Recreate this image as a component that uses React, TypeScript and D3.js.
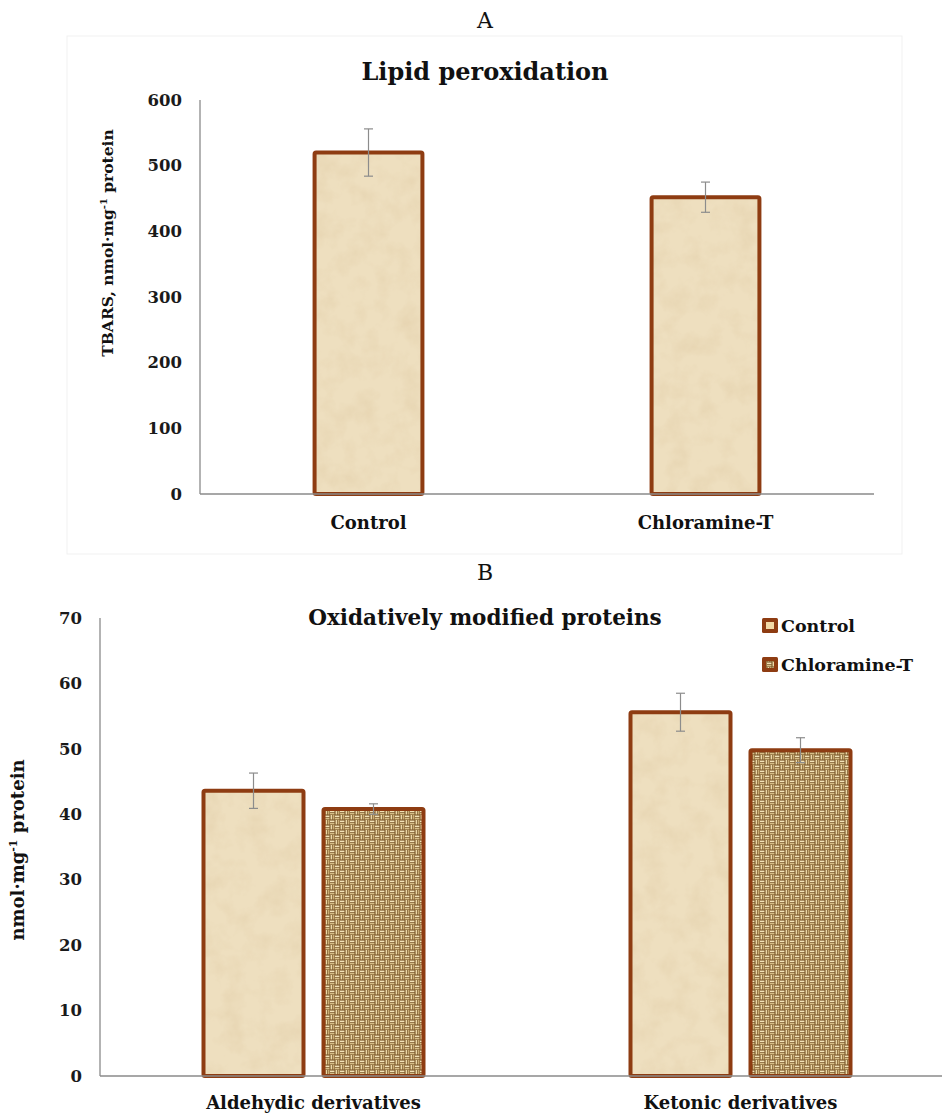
import React from "react";
import * as d3 from "d3";

// ---- Data ----
const lipidCategories = ["Control", "Chloramine-T"];
const lipidValues = [520, 452];
const lipidErrors = [36, 23];
const lipidTicks = [0, 100, 200, 300, 400, 500, 600];

const ompGroups = ["Aldehydic derivatives", "Ketonic derivatives"];
const ompSeries = ["Control", "Chloramine-T"];
const ompControl = [43.6, 55.6];
const ompControlErr = [2.7, 2.9];
const ompChloramine = [40.8, 49.8];
const ompChloramineErr = [0.8, 1.9];
const ompTicks = [0, 10, 20, 30, 40, 50, 60, 70];

const FONT = "'DejaVu Serif', serif";
const BAR_STROKE = "#8e3c12";
const AXIS = "#8a8a8a";
const ERR = "#8c8c8c";

function ErrorBar({ x, y1, y2 }: { x: number; y1: number; y2: number }) {
  return (
    <g stroke={ERR} strokeWidth={1.2}>
      <line x1={x} x2={x} y1={y1} y2={y2} />
      <line x1={x - 4.5} x2={x + 4.5} y1={y1} y2={y1} />
      <line x1={x - 4.5} x2={x + 4.5} y1={y2} y2={y2} />
    </g>
  );
}

function Bar({ x, y, w, h, series }: { x: number; y: number; w: number; h: number; series: string }) {
  return (
    <g>
      <rect x={x} y={y} width={w} height={h} fill={series === "Control" ? "#eedfbf" : "#8a6535"} />
      {series === "Control" ? (
        <rect x={x} y={y} width={w} height={h} fill="#fff" filter="url(#paper)" />
      ) : (
        <rect x={x} y={y} width={w} height={h} fill="url(#weave)" />
      )}
      <rect x={x} y={y} width={w} height={h} fill="none" stroke={BAR_STROKE} strokeWidth={4} rx={1.5} />
    </g>
  );
}

function ChartA() {
  const x = d3.scaleBand<string>().domain(lipidCategories).range([200, 874]).padding(0);
  const y = d3.scaleLinear().domain([0, 600]).range([494, 100]);
  const bw = x.bandwidth() * 0.32;
  return (
    <g>
      <rect x={67} y={36} width={835} height={518} fill="none" stroke="#f1f1f1" strokeWidth={1} />
      <text x={485} y={28} textAnchor="middle" fontFamily={FONT} fontSize={22} fill="#111">A</text>
      <text x={485} y={80} textAnchor="middle" fontFamily={FONT} fontSize={24} fontWeight="bold" fill="#111">
        Lipid peroxidation
      </text>
      {lipidTicks.map((t) => (
        <text key={t} x={182} y={y(t)} dy="0.35em" textAnchor="end" fontFamily={FONT} fontSize={16.5} fontWeight="bold" fill="#1a1a1a">
          {t}
        </text>
      ))}
      <line x1={200} x2={200} y1={y(600)} y2={y(0)} stroke={AXIS} strokeWidth={1.3} />
      <text transform={`translate(113,243) rotate(-90)`} textAnchor="middle" fontFamily={FONT} fontSize={15.5} fontWeight="bold" fill="#111">
        TBARS, nmol·mg<tspan dy={-6} fontSize={10}>-1</tspan><tspan dy={6}> protein</tspan>
      </text>
      {lipidCategories.map((c, i) => {
        const cx = (x(c) as number) + x.bandwidth() / 2;
        return (
          <g key={c}>
            <Bar x={cx - bw / 2} y={y(lipidValues[i])} w={bw} h={y(0) - y(lipidValues[i])} series="Control" />
            <ErrorBar x={cx} y1={y(lipidValues[i] + lipidErrors[i])} y2={y(lipidValues[i] - lipidErrors[i])} />
            <text x={cx} y={529} textAnchor="middle" fontFamily={FONT} fontSize={18} fontWeight="bold" fill="#111">
              {c}
            </text>
          </g>
        );
      })}
      <line x1={200} x2={874} y1={y(0)} y2={y(0)} stroke={AXIS} strokeWidth={1.3} />
    </g>
  );
}

function ChartB() {
  const x0 = d3.scaleBand<string>().domain(ompGroups).range([100, 954]).padding(0);
  const x1 = d3.scaleBand<string>().domain(ompSeries).range([-110, 110]).paddingInner(1 / 6).paddingOuter(0);
  const y = d3.scaleLinear().domain([0, 70]).range([1076, 618]);
  const vals: Record<string, number[]> = { Control: ompControl, "Chloramine-T": ompChloramine };
  const errs: Record<string, number[]> = { Control: ompControlErr, "Chloramine-T": ompChloramineErr };
  return (
    <g>
      <text x={485} y={580} textAnchor="middle" fontFamily={FONT} fontSize={22} fill="#111">B</text>
      <text x={485} y={625} textAnchor="middle" fontFamily={FONT} fontSize={21.5} fontWeight="bold" fill="#111">
        Oxidatively modified proteins
      </text>
      {ompTicks.map((t) => (
        <text key={t} x={82} y={y(t)} dy="0.35em" textAnchor="end" fontFamily={FONT} fontSize={16.5} fontWeight="bold" fill="#1a1a1a">
          {t}
        </text>
      ))}
      <line x1={100} x2={100} y1={y(70)} y2={y(0)} stroke={AXIS} strokeWidth={1.3} />
      <text transform={`translate(24,850) rotate(-90)`} textAnchor="middle" fontFamily={FONT} fontSize={18} fontWeight="bold" fill="#111">
        nmol·mg<tspan dy={-7} fontSize={11}>-1</tspan><tspan dy={7}> protein</tspan>
      </text>
      {ompGroups.map((g, gi) => {
        const gc = (x0(g) as number) + x0.bandwidth() / 2;
        return (
          <g key={g}>
            {ompSeries.map((s) => {
              const v = vals[s][gi];
              const e = errs[s][gi];
              const bx = gc + (x1(s) as number);
              const cx = bx + x1.bandwidth() / 2;
              return (
                <g key={s}>
                  <Bar x={bx} y={y(v)} w={x1.bandwidth()} h={y(0) - y(v)} series={s} />
                  <ErrorBar x={cx} y1={y(v + e)} y2={y(v - e)} />
                </g>
              );
            })}
            <text x={gc} y={1109} textAnchor="middle" fontFamily={FONT} fontSize={18} fontWeight="bold" fill="#111">
              {g}
            </text>
          </g>
        );
      })}
      <line x1={100} x2={942} y1={y(0)} y2={y(0)} stroke={AXIS} strokeWidth={1.3} />
      {/* Legend */}
      {ompSeries.map((s, i) => (
        <g key={s} transform={`translate(762,${618 + i * 39})`}>
          <rect x={0} y={0} width={16} height={15} fill={BAR_STROKE} rx={1.5} />
          <rect x={4} y={4} width={8} height={7} fill={s === "Control" ? "#f2d9a6" : "url(#weave)"} />
          <text x={19} y={8} dy="0.35em" fontFamily={FONT} fontSize={17.5} fontWeight="bold" fill="#111">
            {s}
          </text>
        </g>
      ))}
    </g>
  );
}

export default function App() {
  return (
    <svg width={942} height={1115} style={{ position: "absolute", left: 0, top: 0, background: "#fff" }}>
      <defs>
        <filter id="paper" x="0" y="0" width="100%" height="100%">
          <feTurbulence type="fractalNoise" baseFrequency="0.045" numOctaves={4} seed={7} result="t" />
          <feColorMatrix
            in="t"
            type="matrix"
            values="0 0 0 0 0.78  0 0 0 0 0.64  0 0 0 0 0.42  0 0 0 1.3 -0.52"
            result="c"
          />
          <feComposite in="c" in2="SourceGraphic" operator="in" />
        </filter>
        <pattern id="weave" x={0} y={0} width={10} height={10} patternUnits="userSpaceOnUse">
          <rect width={10} height={10} fill="#7f5c2e" />
          {/* horizontal threads in TL and BR quadrants */}
          <rect x={0} y={0.6} width={4.4} height={1.6} fill="#f3e3b8" />
          <rect x={0} y={3} width={4.4} height={1.4} fill="#d8bf88" />
          <rect x={5} y={5.6} width={4.4} height={1.6} fill="#f3e3b8" />
          <rect x={5} y={8} width={4.4} height={1.4} fill="#d8bf88" />
          {/* vertical threads in TR and BL quadrants */}
          <rect x={5.6} y={0} width={1.6} height={4.4} fill="#ecd9a8" />
          <rect x={8} y={0} width={1.4} height={4.4} fill="#c9ad74" />
          <rect x={0.6} y={5} width={1.6} height={4.4} fill="#ecd9a8" />
          <rect x={3} y={5} width={1.4} height={4.4} fill="#c9ad74" />
        </pattern>
      </defs>
      <ChartA />
      <ChartB />
    </svg>
  );
}
